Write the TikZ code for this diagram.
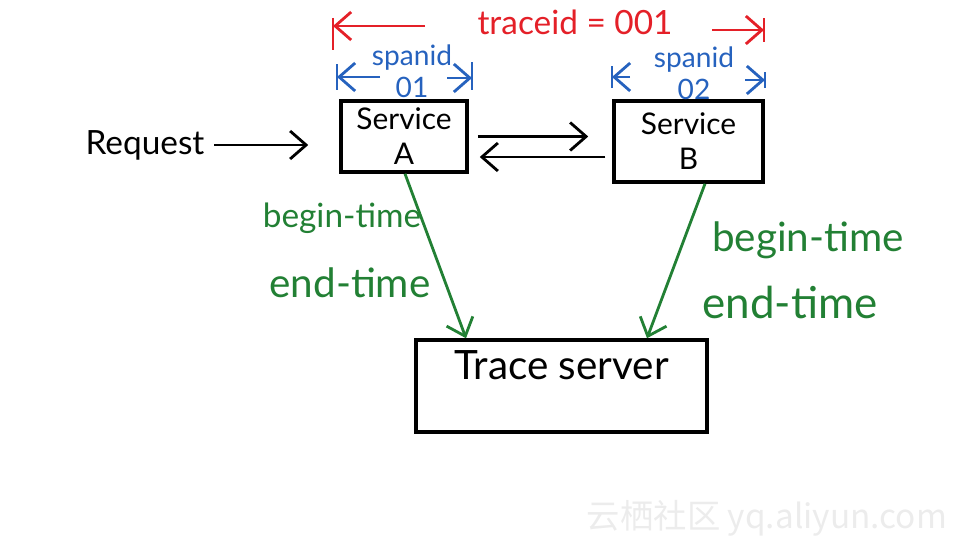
\documentclass[tikz,border=0pt]{standalone}
\usepackage{fontspec}
\setmainfont{Lato}
\newfontfamily\cjkfont{Noto Sans CJK SC}
\usetikzlibrary{positioning,arrows.meta}
\definecolor{tracered}{RGB}{228,32,40}
\definecolor{spanblue}{RGB}{38,98,190}
\definecolor{timegreen}{RGB}{34,128,52}

\begin{document}
\begin{tikzpicture}[>={Straight Barb[length=1.6mm,width=2.8mm]}, line width=0.8pt,
  box/.style={draw, line width=1pt, inner sep=0pt},
  svc/.style={box, align=center, font=\fontsize{8.5}{10}\selectfont},
  tr/.style={draw=tracered},
  sp/.style={draw=spanblue},
  tm/.style={draw=timegreen},
  trtxt/.style={text=tracered, inner sep=1pt, font=\fontsize{9.5}{11}\selectfont},
  sptxt/.style={text=spanblue, inner sep=1pt, align=center, font=\fontsize{8}{9}\selectfont},
  tmtxt/.style={text=timegreen, inner sep=1pt, font=\fontsize{9.5}{11}\selectfont},
  lbl/.style={inner sep=1pt, font=\fontsize{9.5}{11}\selectfont}]
\useasboundingbox (0,0) rectangle (9.70,5.45);
\node[svc, minimum width=1.26cm, minimum height=0.71cm] (svcA) at (4.04,4.085) {Service\\A};
\node[svc, minimum width=1.49cm, minimum height=0.81cm] (svcB) at (6.885,4.035) {Service\\B};
\node[box, minimum width=2.91cm, minimum height=0.92cm] (srv) at (5.615,1.59) {};
\node[font=\fontsize{11.5}{13}\selectfont] (srvlbl) at ([yshift=-0.27cm]srv.north) {Trace server};
\node[lbl] (req) at (1.45,4.0) {Request};
\draw[->, shorten <=0.05cm, shorten >=0.31cm] (req.east) -- (svcA.west |- req.east);
\draw[->, shorten <=0.09cm, shorten >=0.24cm] (svcA.east) -- (svcB.west |- svcA.east);
\coordinate (ba) at ([yshift=-0.155cm]svcB.west);
\draw[->, shorten <=0.07cm, shorten >=0.11cm] (ba) -- (svcA.east |- ba);
\node[trtxt] (trid) at (5.75,5.23) {traceid = 001};
\coordinate (trLa) at (4.25,5.19);
\coordinate (trL) at (3.33,5.19);
\coordinate (trRa) at (7.12,5.15);
\coordinate (trR) at (7.64,5.15);
\draw[->, tr] (trLa) -- (trL);
\draw[->, tr] (trRa) -- (trR);
\draw[tr] ([yshift=0.08cm]trL) -- ([yshift=-0.24cm]trL);
\draw[tr] ([yshift=0.12cm]trR) -- ([yshift=-0.12cm]trR);
\node[sptxt] (span1) at (4.12,4.74) {spanid\\01};
\coordinate (s1La) at (3.80,4.68);
\coordinate (s1L) at (3.37,4.68);
\coordinate (s1Ra) at (4.47,4.67);
\coordinate (s1R) at (4.72,4.67);
\draw[->, sp] (s1La) -- (s1L);
\draw[->, sp] (s1Ra) -- (s1R);
\draw[sp] ([yshift=0.13cm]s1L) -- ([yshift=-0.13cm]s1L);
\draw[sp] ([yshift=0.16cm]s1R) -- ([yshift=-0.12cm]s1R);
\node[sptxt] (span2) at (6.94,4.72) {spanid\\02};
\coordinate (s2La) at (6.30,4.68);
\coordinate (s2L) at (6.12,4.68);
\coordinate (s2Ra) at (7.45,4.65);
\coordinate (s2R) at (7.65,4.65);
\draw[->, sp] (s2La) -- (s2L);
\draw[->, sp] (s2Ra) -- (s2R);
\draw[sp] ([yshift=0.11cm]s2L) -- ([yshift=-0.11cm]s2L);
\draw[sp] ([yshift=0.08cm]s2R) -- ([yshift=-0.08cm]s2R);
\draw[->, tm] ([xshift=0.01cm]svcA.south) -- ([xshift=-0.955cm]srv.north);
\draw[->, tm] ([xshift=0.165cm]svcB.south) -- ([xshift=0.855cm]srv.north);
\node[tmtxt] (beginA) at (3.42,3.27) {begin-time};
\node[tmtxt, font=\fontsize{11.5}{13}\selectfont] (endA) at (3.50,2.62) {end-time};
\node[tmtxt, font=\fontsize{11.5}{13}\selectfont] (beginB) at (8.08,3.05) {begin-time};
\node[tmtxt, font=\fontsize{12.5}{14}\selectfont] (endB) at (7.90,2.43) {end-time};
\node[text=gray!15, anchor=east, font=\cjkfont\fontsize{9.5}{10}\selectfont] (wm) at (9.60,0.27) {云栖社区 yq.aliyun.com};
\end{tikzpicture}
\end{document}
